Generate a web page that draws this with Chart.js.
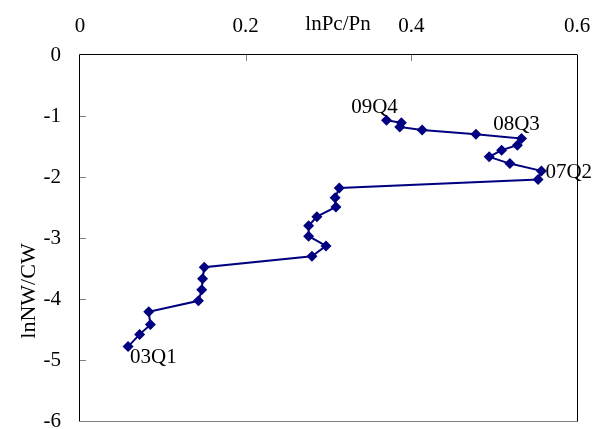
<!DOCTYPE html>
<html><head><meta charset="utf-8">
<script src="https://cdn.jsdelivr.net/npm/chart.js@4/dist/chart.umd.min.js"></script>
<style>html,body{margin:0;padding:0;background:#fff}#wrap{width:594px;height:429px}</style>
</head><body><div id="wrap"><canvas id="c" width="594" height="429"></canvas></div>
<script>
const quarters = ["03Q1","03Q2","03Q3","03Q4","04Q1","04Q2","04Q3","04Q4","05Q1","05Q2","05Q3","05Q4","06Q1","06Q2","06Q3","06Q4","07Q1","07Q2","07Q3","07Q4","08Q1","08Q2","08Q3","08Q4","09Q1","09Q2","09Q3","09Q4"];
const lnPcPn = [0.058,0.072,0.085,0.083,0.143,0.147,0.148,0.150,0.280,0.297,0.276,0.276,0.286,0.309,0.308,0.313,0.553,0.557,0.519,0.494,0.509,0.528,0.533,0.478,0.413,0.386,0.388,0.370];
const lnNWCW = [-4.78,-4.58,-4.42,-4.21,-4.03,-3.85,-3.67,-3.48,-3.30,-3.13,-2.97,-2.80,-2.65,-2.49,-2.34,-2.18,-2.04,-1.90,-1.78,-1.67,-1.56,-1.48,-1.37,-1.30,-1.23,-1.18,-1.11,-1.07];
const xTicks = [0,0.2,0.4,0.6];
const yTicks = [0,-1,-2,-3,-4,-5,-6];
const labelled = {"03Q1":[2,11,"left"],"07Q2":[4,2,"left"],"08Q3":[-5,-14,"center"],"09Q4":[-12,-12.5,"center"]};
const FONT = "'Liberation Serif','Times New Roman',serif";
const FS = 21;

const pts = lnPcPn.map((x,i)=>({x:x,y:lnNWCW[i]}));

const deco = {
  id:'deco',
  afterDraw(chart){
    const ctx = chart.ctx, a = chart.chartArea;
    const xs = chart.scales.x, ys = chart.scales.y;
    ctx.save();
    ctx.lineWidth = 1;
    ctx.strokeStyle = '#808080';
    ctx.beginPath(); ctx.moveTo(a.left, a.bottom+0.5); ctx.lineTo(a.right+0.5, a.bottom+0.5); ctx.stroke();
    ctx.strokeStyle = '#000';
    ctx.beginPath(); ctx.moveTo(a.right+0.5, a.top); ctx.lineTo(a.right+0.5, a.bottom+0.5); ctx.stroke();
    ctx.beginPath(); ctx.moveTo(a.left-0.5, a.top-0.5); ctx.lineTo(a.right+0.5, a.top-0.5); ctx.stroke();
    ctx.beginPath(); ctx.moveTo(a.left-0.5, a.top-0.5); ctx.lineTo(a.left-0.5, a.bottom+0.5); ctx.stroke();
    ctx.strokeStyle = '#808080';
    xTicks.forEach(v=>{ const px = Math.round(xs.getPixelForValue(v))+0.5; if (px>a.left+2 && px<a.right-2){ctx.beginPath(); ctx.moveTo(px,a.top); ctx.lineTo(px,a.top+6); ctx.stroke();}});
    yTicks.forEach(v=>{ const py = Math.round(ys.getPixelForValue(v))+0.5; if (py>a.top+2 && py<a.bottom-2){ctx.beginPath(); ctx.moveTo(a.left,py); ctx.lineTo(a.left+6,py); ctx.stroke();}});
    ctx.fillStyle = '#000';
    ctx.font = FS + 'px ' + FONT;
    ctx.textAlign = 'center'; ctx.textBaseline = 'middle';
    ctx.fillText('lnPc/Pn', 338, 24);
    ctx.save(); ctx.font = '22px ' + FONT; ctx.translate(29, 291); ctx.rotate(-Math.PI/2); ctx.fillText('lnNW/CW', 0, 0); ctx.restore();
    const meta = chart.getDatasetMeta(0);
    quarters.forEach((q,i)=>{
      if (!labelled[q]) return;
      const p = meta.data[i], o = labelled[q];
      ctx.textAlign = o[2]; ctx.textBaseline = 'middle';
      ctx.fillText(q, p.x + o[0], p.y + o[1]);
    });
    ctx.restore();
  }
};

new Chart(document.getElementById('c'), {
  type:'scatter',
  data:{datasets:[{
    data: pts, showLine:true, borderColor:'#000080', backgroundColor:'#000080', borderWidth:2,
    pointStyle:'rectRot', pointRadius:5.5, pointHoverRadius:5.5, pointBorderWidth:0
  }]},
  options:{
    responsive:false, animation:false,
    layout:{padding:{left:0,right:17,top:0,bottom:8}},
    plugins:{legend:{display:false}, tooltip:{enabled:false}},
    scales:{
      x:{type:'linear', position:'top', min:0, max:0.6,
        afterBuildTicks(s){ s.ticks = xTicks.map(v=>({value:v})); },
        afterFit(s){ s.height = 55; s.paddingLeft = 0; s.paddingRight = 0; },
        grid:{display:true, drawOnChartArea:false, drawTicks:false},
        border:{display:false},
        ticks:{color:'#000', font:{family:FONT, size:FS}, padding:16, maxRotation:0, autoSkip:false,
          callback:v=>String(v)}},
      y:{type:'linear', position:'left', min:-6, max:0,
        afterBuildTicks(s){ s.ticks = yTicks.map(v=>({value:v})); },
        afterFit(s){ s.width = 80; s.paddingTop = 0; s.paddingBottom = 0; },
        grid:{display:true, drawOnChartArea:false, drawTicks:false},
        border:{display:false},
        ticks:{color:'#000', font:{family:FONT, size:FS}, padding:19, autoSkip:false,
          callback:v=>String(v)}}
    }
  },
  plugins:[deco]
});
</script></body></html>
